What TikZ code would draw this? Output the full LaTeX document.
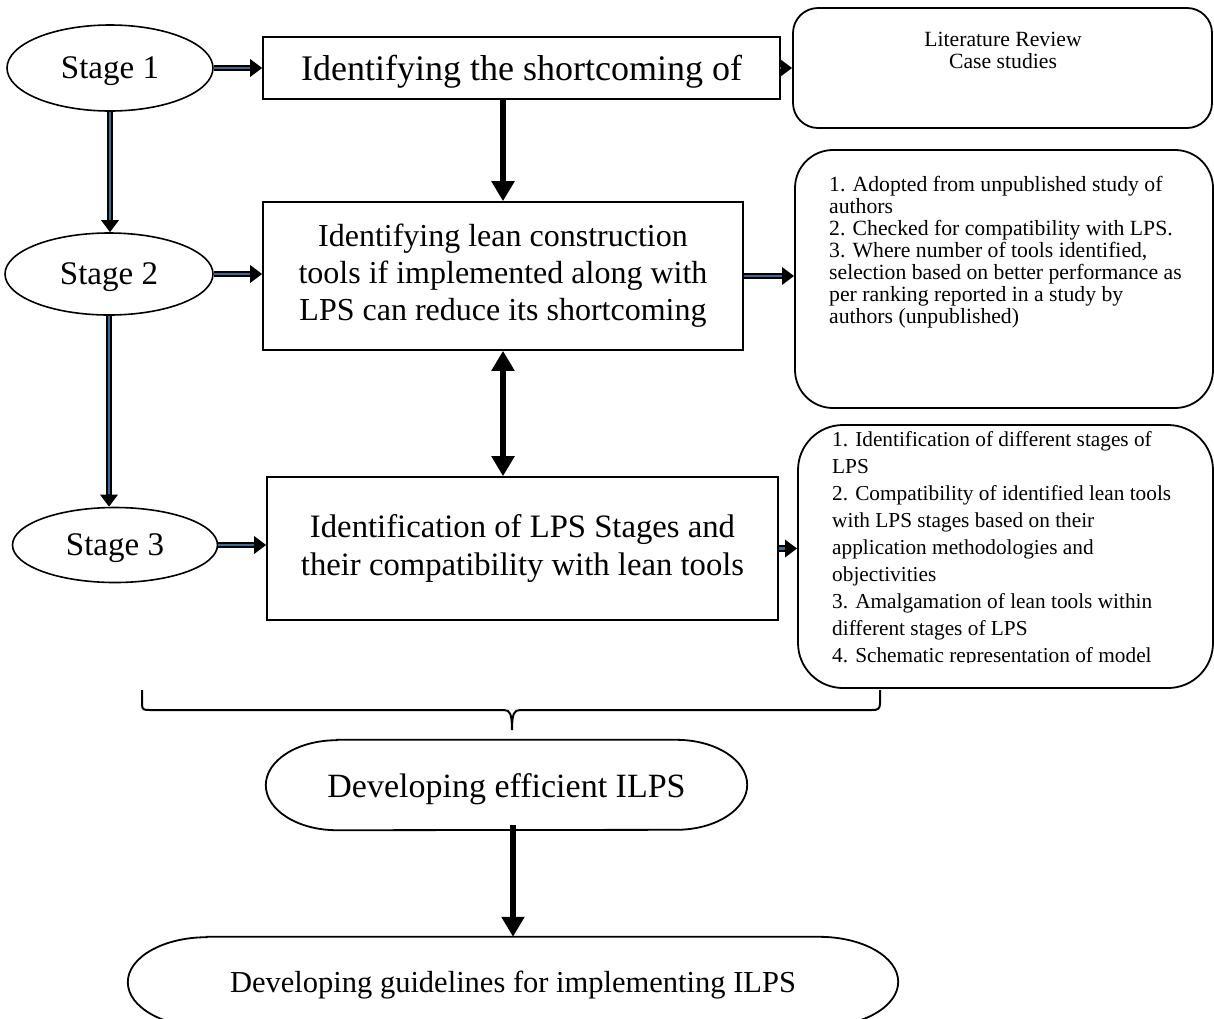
\documentclass[tikz,border=0pt]{standalone}
\usepackage{fontspec}
\setmainfont{Liberation Serif}
\usetikzlibrary{arrows.meta,shapes.geometric,calc}

\definecolor{linkblue}{HTML}{3E6A96}

% outline of a terminator: straight top and bottom, half-elliptic ends
\newcommand\termoutline[3]{% node, end x-radius, end y-radius
  \draw[line width=1.8pt] ($(#1.north west)+(#2,0)$) -- ($(#1.north east)+(-#2,0)$)
    arc[start angle=-90,end angle=90,x radius=#2,y radius=#3]
    -- ($(#1.south west)+(#2,0)$)
    arc[start angle=90,end angle=270,x radius=#2,y radius=#3] -- cycle;}

\begin{document}
\begin{tikzpicture}[x=1pt,y=-1pt,
  stage/.style={ellipse, draw, line width=1.6pt, inner sep=0pt, text depth=0pt, font=\fontsize{33}{38}\selectfont},
  stepbox/.style={rectangle, draw, line width=1.6pt, inner sep=0pt, align=center, font=\fontsize{32}{37}\selectfont},
  notebox/.style={rectangle, draw, line width=1.8pt, inner sep=0pt},
  notetext/.style={inner sep=0pt, align=left, anchor=north west, font=\fontsize{21.7}{22}\selectfont},
  termbox/.style={rectangle, inner sep=0pt},
  termtext/.style={inner sep=0pt, anchor=base, font=\fontsize{30.5}{36}\selectfont},
  % black outer line with a blue core, black head
  link/.style={line width=6.4pt, -{Triangle[length=12pt,width=17pt]},
    postaction={draw=linkblue, line width=2.2pt, -, shorten >=12.5pt}},
  bigarrow/.style={line width=6.5pt, -{Triangle[length=20pt,width=22pt]}},
  bigboth/.style={line width=6.5pt, {Triangle[length=20pt,width=22pt]}-{Triangle[length=20pt,width=22pt]}},
]
\useasboundingbox (0,0) rectangle (1214,1018);
\clip (0,0) rectangle (1214,1018);

% stages
\node[stage, minimum width=206, minimum height=86] (s1) at (110,68) {Stage 1};
\node[stage, minimum width=208, minimum height=82] (s2) at (109,274) {Stage 2};
\node[stage, minimum width=205, minimum height=75] (s3) at (115,545) {Stage 3};

% central steps
\node[stepbox, minimum width=517, minimum height=62, text depth=0pt, font=\fontsize{36}{40}\selectfont] (b1) at (521.5,68) {Identifying the shortcoming of};
\node[stepbox, minimum width=480, minimum height=148] (b2) at (503,276) {Identifying lean construction\\tools if implemented along with\\LPS can reduce its shortcoming};
\node[stepbox, minimum width=511, minimum height=143, font=\fontsize{32.7}{38}\selectfont] (b3) at (522.5,548.5) {Identification of LPS Stages and\\their compatibility with lean tools};

% notes
\node[notebox, rounded corners=25pt, minimum width=419, minimum height=120] (r1) at (1002.5,68) {};
\node[notetext, anchor=north, align=center] (r1t) at (1003,32) {Literature Review\\Case studies};

\node[notebox, rounded corners=38pt, minimum width=418, minimum height=258] (r2) at (1004,279) {};
\node[notetext] (r2t) at (829,176) {1. Adopted from unpublished study of\\authors\\2. Checked for compatibility with LPS.\\3. Where number of tools identified,\\selection based on better performance as\\per ranking reported in a study by\\authors (unpublished)};

\node[notebox, rounded corners=45pt, minimum width=415, minimum height=263] (r3) at (1005.5,556.5) {};
\begin{scope}
  \clip (800,428) rectangle (1212,662);
  \node[notetext, font=\fontsize{21.3}{27}\selectfont] (r3t) at (832,431) {1. Identification of different stages of\\LPS\\2. Compatibility of identified lean tools\\with LPS stages based on their\\application methodologies and\\objectivities\\3. Amalgamation of lean tools within\\different stages of LPS\\4. Schematic representation of model};
\end{scope}

% grouping brace
\draw[line width=2pt] (142,690) -- (142,704) .. controls (142,710) and (144,710) .. (150,710)
  -- (504,710) .. controls (510,710) and (512,714) .. (512,730)
  .. controls (512,714) and (514,710) .. (520,710)
  -- (872,710) .. controls (878,710) and (880,709) .. (880,703) -- (880,690);

% outcomes
\node[termbox, minimum width=481, minimum height=90] (dev) at (506.5,785) {};
\termoutline{dev}{71}{45}
\node[termtext, font=\fontsize{34}{40}\selectfont] (devt) at (506.5,797) {Developing efficient ILPS};

\node[termbox, minimum width=770, minimum height=90] (guide) at (513,982) {};
\termoutline{guide}{79}{45}
\node[termtext] (guidet) at (513,992) {Developing guidelines for implementing ILPS};

% connectors
\draw[link] (s1) -- (b1);
\draw[link] (b1) -- (r1);
\draw[link] (s2.east) -- (s2.east -| b2.west);
\draw[link] (b2.east) -- (b2.east -| r2.west);
\draw[link] (s3.east) -- (s3.east -| b3.west);
\draw[link] (b3.east) -- (b3.east -| r3.west);
\draw[link] (s1.south) -- (s1.south |- s2.north);
\draw[link] (s2.south) -- (s2.south |- s3.north);

\draw[bigarrow] (b1.south -| b2.north) -- (b2.north);
\draw[bigboth] (b2.south) -- (b2.south |- b3.north);
\draw[bigarrow] ([yshift=5pt]dev.south -| guide.north) -- (guide.north);
\end{tikzpicture}
\end{document}
